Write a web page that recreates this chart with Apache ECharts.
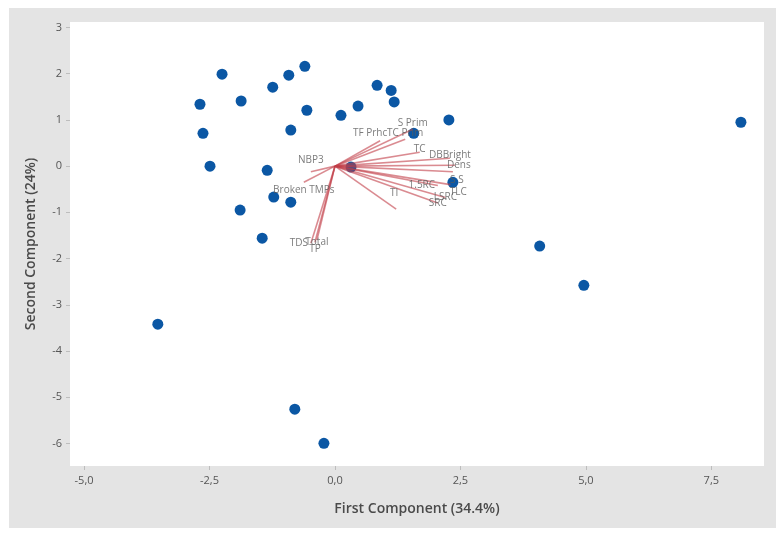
<!DOCTYPE html>
<html>
<head>
<meta charset="utf-8">
<script src="https://cdn.jsdelivr.net/npm/echarts@6/dist/echarts.min.js"></script>
<style>
  html, body { margin: 0; padding: 0; background: #ffffff; }
  #wrap { position: absolute; left: 9px; top: 8px; width: 767px; height: 520px; }
</style>
</head>
<body>
<div id="wrap"></div>
<script>
// PCA scores (first / second component)
const scoreX = [-2.25, -2.69, -2.63, -2.49, -1.87, -1.24, -0.92, -0.60, -0.56, -0.88,
                -1.35, -1.22, -0.88, -1.89, -1.45, 0.12, 0.46, 0.84, 1.12, 1.18,
                1.57, 2.27, 0.32, 2.35, 4.08, 4.96, 8.09, -3.53, -0.80, -0.22];
const scoreY = [1.99, 1.34, 0.71, 0.00, 1.41, 1.71, 1.97, 2.16, 1.21, 0.78,
                -0.09, -0.67, -0.78, -0.95, -1.56, 1.10, 1.30, 1.75, 1.64, 1.39,
                0.71, 1.00, -0.02, -0.35, -1.73, -2.58, 0.95, -3.42, -5.26, -6.00];

// Loading vectors (scaled for the biplot)
const varNames = ['TDS', 'Total', 'TP', 'Broken TMPs', 'NBP3', 'TF Prhc', 'TC Prim', 'S Prim',
                  'TC', 'DBBright', 'Dens', 'S S', 'TLC', '1.5RC', 'LSRC', 'SRC', 'TI'];
const loadX = [-0.48, -0.40, -0.36, -0.62, -0.48, 0.90, 1.40, 1.55, 1.69, 2.29, 2.39, 2.35, 2.30, 2.05, 2.20, 2.05, 1.22];
const loadY = [-1.67, -1.65, -1.60, -0.35, -0.12, 0.55, 0.58, 0.80, 0.30, 0.17, 0.02, -0.12, -0.40, -0.42, -0.68, -0.80, -0.93];

// Axis ticks
const xTicks = [-5, -2.5, 0, 2.5, 5, 7.5];
const yTicks = [-6, -5, -4, -3, -2, -1, 0, 1, 2, 3];

// label nudges (pixels) so overlapping names stay readable
const labelNudge = [[-12, 0], [2, 0], [-2, 9], [0, 8], [0, -12], [-10, -8], [0, -6], [0, -6],
                    [0, -3], [0, -3], [4, 0], [4, 8], [8, 8], [-16, 0], [0, 0], [0, 0], [-2, -16]];

const fmt = v => v.toFixed(1).replace('.', ',');

const scores = scoreX.map((x, i) => [x, scoreY[i]]);
const vectors = loadX.map((x, i) => ({ coords: [[0, 0], [x, loadY[i]]] }));
const ends = loadX.map((x, i) => ({
  value: [x, loadY[i]],
  label: { formatter: varNames[i], offset: labelNudge[i] }
}));

const chart = echarts.init(document.getElementById('wrap'), null, { renderer: 'canvas' });
chart.setOption({
  backgroundColor: '#e4e4e4',
  animation: false,
  grid: { left: 61, top: 14, right: 12, bottom: 62, show: true, backgroundColor: '#ffffff', borderWidth: 0 },
  xAxis: {
    type: 'value', min: -5.28, max: 8.55,
    name: 'First Component (34.4%)', nameLocation: 'middle', nameGap: 36,
    nameTextStyle: { fontFamily: 'Open Sans', fontSize: 14, fontWeight: 600, color: '#4a4a4a' },
    axisLine: { show: false, onZero: false },
    splitLine: { show: false },
    axisTick: { show: true, length: 4, lineStyle: { color: '#bdbdbd' }, customValues: xTicks },
    axisLabel: { customValues: xTicks, formatter: fmt, fontFamily: 'Open Sans', fontSize: 11, color: '#555', margin: 9 }
  },
  yAxis: {
    type: 'value', min: -6.49, max: 3.12,
    name: 'Second Component (24%)', nameLocation: 'middle', nameGap: 32,
    nameTextStyle: { fontFamily: 'Open Sans', fontSize: 14, fontWeight: 600, color: '#4a4a4a' },
    axisLine: { show: false, onZero: false },
    splitLine: { show: false },
    axisTick: { show: true, length: 4, lineStyle: { color: '#bdbdbd' }, customValues: yTicks },
    axisLabel: { customValues: yTicks, formatter: v => String(v), fontFamily: 'Open Sans', fontSize: 11, color: '#555', margin: 8 }
  },
  series: [
    {
      type: 'scatter', data: scores, symbolSize: 11, z: 3,
      itemStyle: { color: '#0b57a4', opacity: 1 }
    },
    {
      type: 'lines', coordinateSystem: 'cartesian2d', data: vectors, z: 4,
      lineStyle: { color: '#c23d48', width: 1.6, opacity: 0.6, curveness: 0 },
      symbol: 'none'
    },
    {
      type: 'scatter', data: ends, symbolSize: 0, z: 5,
      label: { show: true, position: 'inside', fontFamily: 'Open Sans', fontSize: 10, color: '#5a5a5a' }
    }
  ]
});
</script>
</body>
</html>
